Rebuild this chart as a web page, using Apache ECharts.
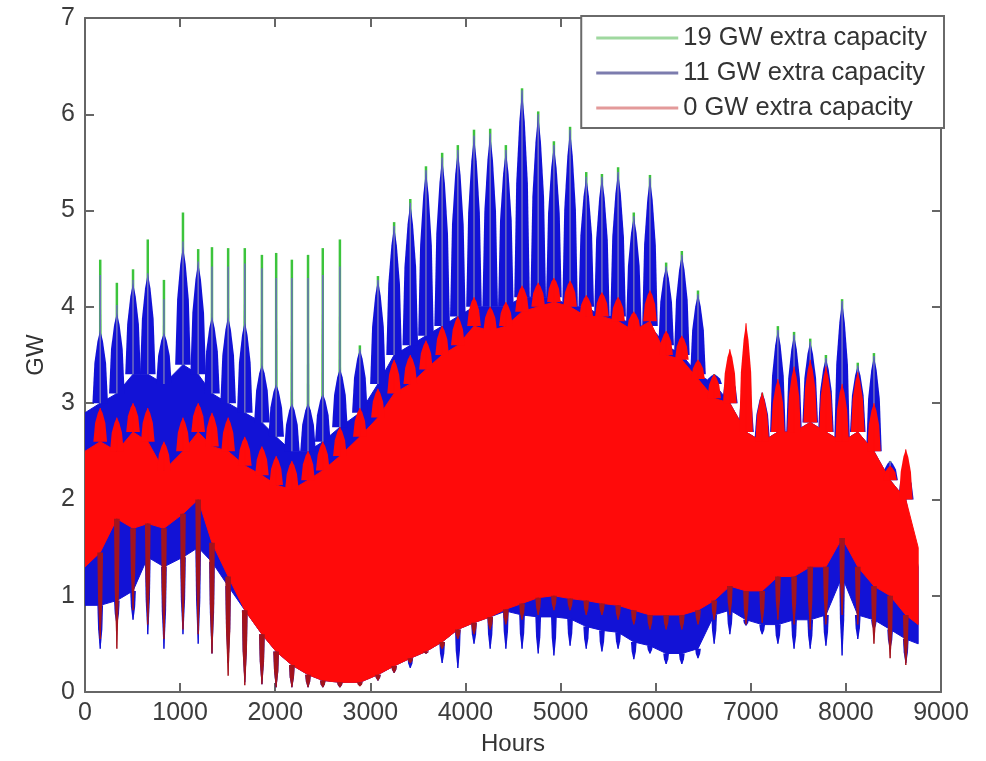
<!DOCTYPE html>
<html lang="en">

<head>
    <meta charset="UTF-8">
    <title>Extra capacity</title>
    <script src="https://cdn.jsdelivr.net/npm/echarts@6/dist/echarts.min.js"></script>
    <style>
        * {
            margin: 0;
            padding: 0
        }

        html,
        body {
            width: 986px;
            height: 761px;
            background: #fff;
        }
    </style>
</head>

<body>
    <div id="main" style="width:986px;height:761px"></div>

    <script>
        // weekly spike positions (hours)
        var spikeHours = [160, 335, 505, 660, 830, 1030, 1190, 1335, 1505, 1680, 1860, 2010, 2175, 2345, 2500, 2680,
            2890, 3080, 3250, 3420, 3585, 3755, 3920, 4090, 4260, 4425, 4595, 4765, 4930, 5100, 5270, 5435, 5605,
            5770, 5940, 6110, 6275, 6445, 6615, 6780, 6950, 7120, 7285, 7455, 7625, 7790, 7960, 8125, 8295, 8465, 8630];
        // dense daily band: start, one value per spike week, end
        var bandHours = [0].concat(spikeHours, [8760]);

        var redTop = [2.5, 2.6, 2.5, 2.7, 2.6, 2.3, 2.5, 2.7, 2.55, 2.5, 2.35, 2.25, 2.15, 2.1, 2.2, 2.3, 2.45, 2.65,
            2.85, 3.1, 3.2, 3.35, 3.5, 3.6, 3.8, 3.75, 3.8, 3.95, 4.0, 4.05, 4.0, 3.9, 3.9, 3.85, 3.75, 3.85, 3.5, 3.45,
            3.25, 3.05, 3.0, 2.7, 2.6, 2.7, 2.7, 2.8, 2.7, 2.6, 2.7, 2.5, 2.2, 2.0, 1.5];
        var redBottom = [1.3, 1.45, 1.8, 1.7, 1.75, 1.7, 1.85, 2.0, 1.55, 1.2, 0.85, 0.6, 0.42, 0.28, 0.18, 0.12, 0.1,
            0.1, 0.18, 0.27, 0.35, 0.42, 0.52, 0.65, 0.72, 0.78, 0.86, 0.92, 0.98, 1.0, 0.97, 0.95, 0.92, 0.9, 0.85,
            0.8, 0.8, 0.8, 0.85, 0.95, 1.1, 1.05, 1.05, 1.2, 1.2, 1.3, 1.3, 1.6, 1.3, 1.1, 1.0, 0.8, 0.7];
        var blueTop = [2.9, 3.0, 3.1, 3.3, 3.3, 3.2, 3.4, 3.3, 3.1, 3.0, 2.9, 2.8, 2.65, 2.5, 2.5, 2.6, 2.75, 2.9, 3.2,
            3.5, 3.6, 3.7, 3.8, 3.9, 4.0, 4.0, 4.0, 4.1, 4.1, 4.1, 4.0, 4.0, 3.9, 3.9, 3.8, 3.8, 3.6, 3.5, 3.3, 3.2,
            3.0, 2.7, 2.6, 2.7, 2.7, 2.8, 2.7, 2.6, 2.7, 2.5, 2.2, 2.0, 1.3];
        var blueBottom = [0.9, 0.9, 0.95, 1.05, 1.4, 1.3, 1.4, 1.5, 1.35, 1.1, 0.85, 0.6, 0.42, 0.28, 0.18, 0.12, 0.1,
            0.1, 0.18, 0.27, 0.35, 0.42, 0.52, 0.65, 0.72, 0.78, 0.84, 0.8, 0.78, 0.78, 0.76, 0.68, 0.64, 0.62, 0.52,
            0.48, 0.4, 0.4, 0.45, 0.8, 0.85, 0.75, 0.7, 0.7, 0.75, 0.75, 0.8, 1.2, 0.8, 0.75, 0.65, 0.55, 0.5];

        // weekly peaks and dips
        var greenPeak = [4.49, 4.25, 4.39, 4.70, 4.28, 4.98, 4.60, 4.62, 4.61, 4.61, 4.54, 4.56, 4.49, 4.54, 4.61, 4.70,
            3.6, 4.32, 4.88, 5.12, 5.46, 5.6, 5.68, 5.84, 5.85, 5.68, 6.27, 6.03, 5.72, 5.87, 5.4, 5.38, 5.45, 4.98,
            5.37, 4.46, 4.58, 4.17, 3.3, 3.3, 3.2, 3.1, 3.8, 3.74, 3.67, 3.5, 4.08, 3.42, 3.52, 2.4, 2.3];
        var blueWedge = [3.76, 3.94, 4.25, 4.35, 3.73, 4.63, 4.46, 3.9, 3.9, 3.85, 3.4, 3.2, 3.0, 3.0, 3.1, 3.36,
            3.56, 4.28, 4.84, 5.08, 5.42, 5.55, 5.63, 5.78, 5.8, 5.63, 6.25, 6.0, 5.68, 5.84, 5.35, 5.35, 5.4, 4.94,
            5.34, 4.42, 4.54, 4.13, 3.3, 3.3, 3.2, 3.11, 3.76, 3.71, 3.64, 3.47, 4.06, 3.39, 3.49, 2.4, 2.3];
        var bluePeak = [4.33, 4.02, 4.28, 4.35, 4.08, 4.68, 4.47, 4.42, 4.42, 4.45, 4.4, 4.3, 4.3, 4.3, 4.33, 4.42,
            3.56, 4.28, 4.84, 5.08, 5.42, 5.55, 5.63, 5.78, 5.8, 5.63, 6.25, 6.0, 5.68, 5.84, 5.35, 5.35, 5.4, 4.94,
            5.34, 4.42, 4.54, 4.13, 3.3, 3.3, 3.2, 3.11, 3.76, 3.71, 3.64, 3.47, 4.06, 3.39, 3.49, 2.4, 2.3];
        var redPeak = [2.95, 2.85, 3.0, 2.95, 2.6, 2.85, 3.0, 2.9, 2.85, 2.65, 2.55, 2.45, 2.4, 2.5, 2.6, 2.75, 2.95,
            3.15, 3.45, 3.5, 3.65, 3.8, 3.9, 4.1, 4.0, 4.05, 4.22, 4.25, 4.3, 4.27, 4.12, 4.15, 4.1, 3.95, 4.17, 3.75,
            3.7, 3.45, 3.3, 3.56, 3.83, 3.11, 3.25, 3.38, 3.45, 3.38, 3.2, 3.32, 3.0, 2.35, 2.52];
        var blueDip = [0.45, 0.7, 0.75, 0.6, 0.45, 0.6, 0.5, 0.4, 0.3, 0.1, 0.08, 0.05, 0.05, 0.05, 0.05, 0.05, 0.08,
            0.12, 0.2, 0.25, 0.4, 0.3, 0.25, 0.5, 0.45, 0.45, 0.45, 0.4, 0.38, 0.48, 0.45, 0.42, 0.45, 0.34, 0.4, 0.29,
            0.29, 0.35, 0.5, 0.6, 0.69, 0.6, 0.5, 0.45, 0.45, 0.48, 0.38, 0.55, 0.65, 0.45, 0.3];
        var redDip = [0.55, 0.45, 0.85, 0.7, 0.55, 0.65, 0.6, 0.4, 0.17, 0.07, 0.08, 0.05, 0.05, 0.05, 0.05, 0.05, 0.06,
            0.12, 0.2, 0.3, 0.4, 0.45, 0.55, 0.6, 0.65, 0.7, 0.75, 0.8, 0.85, 0.85, 0.8, 0.8, 0.75, 0.7, 0.65, 0.65,
            0.65, 0.7, 0.75, 0.8, 0.7, 0.72, 0.75, 0.7, 0.65, 0.7, 0.8, 0.7, 0.5, 0.35, 0.28];

        var names = ['19 GW extra capacity', '11 GW extra capacity', '0 GW extra capacity'];
        var RED = '#ff0a0a', BLUE = '#1212d6', GREEN = '#3cc43c';
        var FONT = 'Liberation Sans, Arial, sans-serif';

        // whole band as one polygon, drawn on the first item only
        function bandRender(tops, bots, fill) {
            return function (params, api) {
                if (params.dataIndex !== 0) return;
                var pts = [];
                for (var i = 0; i < bandHours.length; i++) pts.push(api.coord([bandHours[i], tops[i]]));
                for (var j = bandHours.length - 1; j >= 0; j--) pts.push(api.coord([bandHours[j], bots[j]]));
                return { type: 'polygon', shape: { points: pts }, style: { fill: fill, stroke: fill, lineWidth: 1 } };
            };
        }

        // fat wedge from base to apex, thin line on to tip
        function spikeRender(half, fill, thin, lw) {
            return function (params, api) {
                var h = api.value(0), base = api.value(1), apex = api.value(2), tip = api.value(3);
                var d = apex - base;
                var pts = [
                    api.coord([h - half, base]),
                    api.coord([h - half * 0.75, base + d * 0.55]),
                    api.coord([h - half * 0.35, base + d * 0.85]),
                    api.coord([h, apex]),
                    api.coord([h + half * 0.35, base + d * 0.85]),
                    api.coord([h + half * 0.75, base + d * 0.55]),
                    api.coord([h + half, base])
                ];
                var m = api.coord([h, base]), t = api.coord([h, tip]);
                return {
                    type: 'group', children: [
                        { type: 'polygon', shape: { points: pts }, style: { fill: fill } },
                        { type: 'line', shape: { x1: m[0], y1: m[1], x2: t[0], y2: t[1] }, style: { stroke: thin, lineWidth: lw } }
                    ]
                };
            };
        }

        function band(name, tops, bots, color, z) {
            return {
                name: name, type: 'custom', z: z, clip: true, silent: true,
                itemStyle: { color: color },
                renderItem: bandRender(tops, bots, color),
                encode: { x: 0, y: [1, 2] },
                data: bandHours.map(function (h, i) { return [h, tops[i], bots[i]]; })
            };
        }

        function spikes(name, bases, apexes, tips, half, color, thin, lw, z) {
            return {
                name: name, type: 'custom', z: z, clip: true, silent: true,
                itemStyle: { color: color },
                renderItem: spikeRender(half, color, thin, lw),
                encode: { x: 0, y: [1, 2, 3] },
                data: spikeHours.map(function (h, i) { return [h, bases[i + 1], apexes[i], tips[i]]; })
            };
        }

        var axisColor = '#666';
        var plain = function (v) { return String(v); };

        var option = {
            animation: false,
            backgroundColor: '#fff',
            grid: { left: 85, right: 45, top: 18, bottom: 68 },
            legend: {
                orient: 'vertical',
                right: 42,
                top: 16,
                padding: [9, 17, 7, 15],
                itemGap: 9,
                itemWidth: 82,
                itemHeight: 3,
                backgroundColor: '#fff',
                borderColor: '#6a6a6a',
                borderWidth: 2,
                borderRadius: 0,
                z: 10,
                textStyle: { fontFamily: FONT, fontSize: 25.5, color: '#333' },
                data: [
                    { name: names[0], icon: 'rect', itemStyle: { color: '#9fd89f' } },
                    { name: names[1], icon: 'rect', itemStyle: { color: '#7c7cae' } },
                    { name: names[2], icon: 'rect', itemStyle: { color: '#e39a9a' } }
                ]
            },
            xAxis: [{
                type: 'value', min: 0, max: 9000, interval: 1000,
                name: 'Hours', nameLocation: 'middle', nameGap: 40,
                nameTextStyle: { fontFamily: FONT, fontSize: 24, color: '#333' },
                axisLine: { onZero: false, lineStyle: { color: axisColor, width: 2 } },
                axisTick: { inside: true, length: 9, lineStyle: { color: axisColor, width: 2 } },
                axisLabel: { fontFamily: FONT, fontSize: 25, color: '#3c3c3c', margin: 9, formatter: plain },
                splitLine: { show: false }
            }, {
                type: 'value', min: 0, max: 9000, interval: 1000, position: 'top',
                axisLine: { onZero: false, lineStyle: { color: axisColor, width: 2 } },
                axisTick: { inside: true, length: 9, lineStyle: { color: axisColor, width: 2 } },
                axisLabel: { show: false },
                splitLine: { show: false }
            }],
            yAxis: [{
                type: 'value', min: 0, max: 7, interval: 1,
                name: 'GW', nameLocation: 'middle', nameGap: 37,
                nameTextStyle: { fontFamily: FONT, fontSize: 24, color: '#333' },
                axisLine: { show: true, onZero: false, lineStyle: { color: axisColor, width: 2 } },
                axisTick: { show: true, inside: true, length: 9, lineStyle: { color: axisColor, width: 2 } },
                axisLabel: { fontFamily: FONT, fontSize: 25, color: '#3c3c3c', margin: 10, formatter: plain },
                splitLine: { show: false }
            }, {
                type: 'value', min: 0, max: 7, interval: 1, position: 'right',
                axisLine: { show: true, onZero: false, lineStyle: { color: axisColor, width: 2 } },
                axisTick: { show: true, inside: true, length: 9, lineStyle: { color: axisColor, width: 2 } },
                axisLabel: { show: false },
                splitLine: { show: false }
            }],
            series: [
                spikes(names[0], blueTop, greenPeak, greenPeak, 14, GREEN, GREEN, 2.5, 1),
                band(names[1], blueTop, blueBottom, BLUE, 2),
                spikes(names[1], blueTop, blueWedge, bluePeak, 82, BLUE, '#6e6ebe', 1.5, 2),
                spikes(names[1], blueBottom, blueDip, blueDip, 30, BLUE, BLUE, 1.5, 2),
                band(names[2], redTop, redBottom, RED, 3),
                spikes(names[2], redTop, redPeak, redPeak, 72, RED, RED, 1, 3),
                spikes(names[2], redBottom, redDip, redDip, 30, '#a3141e', '#a3141e', 1.5, 3)
            ]
        };

        echarts.init(document.getElementById('main')).setOption(option);
    </script>
</body>

</html>
